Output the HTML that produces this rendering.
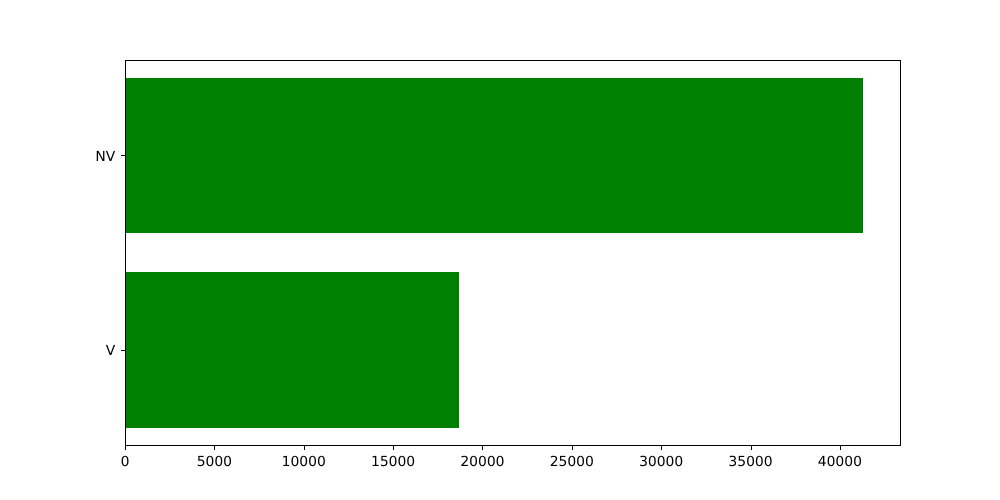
<!DOCTYPE html>
<html lang="en">
<head>
<meta charset="utf-8">
<title>Horizontal bar chart</title>
<style>
html,body{margin:0;padding:0;background:#fff;width:1000px;height:500px;overflow:hidden}
svg{display:block}
text{font-family:"DejaVu Sans",sans-serif;font-size:13.89px;fill:#000;text-rendering:geometricPrecision}
</style>
</head>
<body>
<svg id="chart" xmlns="http://www.w3.org/2000/svg" width="1000" height="500" viewBox="0 0 1000 500">
</svg>
<script>
const categories = ['V', 'NV'];
const seriesValues = [18700, 41300];
const xTickValues = [0, 5000, 10000, 15000, 20000, 25000, 30000, 35000, 40000];

const NS = 'http://www.w3.org/2000/svg';
const svg = document.getElementById('chart');
const plot = {left: 125, right: 900, top: 60, bottom: 445};
const barHeight = 0.8;
const xMax = Math.max(...seriesValues) * 1.05;
const yPad = 0.05 * (categories.length - 1 + barHeight);
const yMin = -barHeight / 2 - yPad;
const yMax = categories.length - 1 + barHeight / 2 + yPad;
function xScale(v) { return plot.left + (v / xMax) * (plot.right - plot.left); }
function yScale(v) { return plot.bottom - ((v - yMin) / (yMax - yMin)) * (plot.bottom - plot.top); }
function snap(p) { return Math.round(p + 1e-6); }
function make(tag, attrs) {
  const el = document.createElementNS(NS, tag);
  for (const k in attrs) el.setAttribute(k, attrs[k]);
  return el;
}

seriesValues.forEach((v, i) => {
  const y0 = snap(yScale(i + barHeight / 2));
  const y1 = snap(yScale(i - barHeight / 2));
  const x0 = snap(xScale(0));
  const x1 = snap(xScale(v));
  const bar = make('rect', {x: x0, y: y0, width: x1 - x0, height: y1 - y0, fill: '#008000', 'shape-rendering': 'crispEdges'});
  
  
  svg.appendChild(bar);
});

const frame = make('rect', {x: plot.left + 0.5, y: plot.top + 0.5, width: plot.right - plot.left, height: plot.bottom - plot.top, fill: 'none', stroke: '#000', 'stroke-width': 1});


svg.appendChild(frame);

xTickValues.forEach(v => {
  const x = snap(xScale(v)) + 0.5;
  const tick = make('line', {x1: x, x2: x, y1: plot.bottom + 1, y2: plot.bottom + 5, stroke: '#000', 'stroke-width': 1});
  
  
  svg.appendChild(tick);
  const label = make('text', {x: xScale(v), y: plot.bottom + 21, 'text-anchor': 'middle'});
  
  
  label.textContent = String(v);
  svg.appendChild(label);
});

categories.forEach((c, i) => {
  const y = snap(yScale(i)) + 0.5;
  const tick = make('line', {x1: plot.left - 4, x2: plot.left, y1: y, y2: y, stroke: '#000', 'stroke-width': 1});
  
  
  svg.appendChild(tick);
  const label = make('text', {x: plot.left - 9.7, y: Math.round(yScale(i) + 5.3), 'text-anchor': 'end'});
  
  
  label.textContent = c;
  svg.appendChild(label);
});
</script>
</body>
</html>
